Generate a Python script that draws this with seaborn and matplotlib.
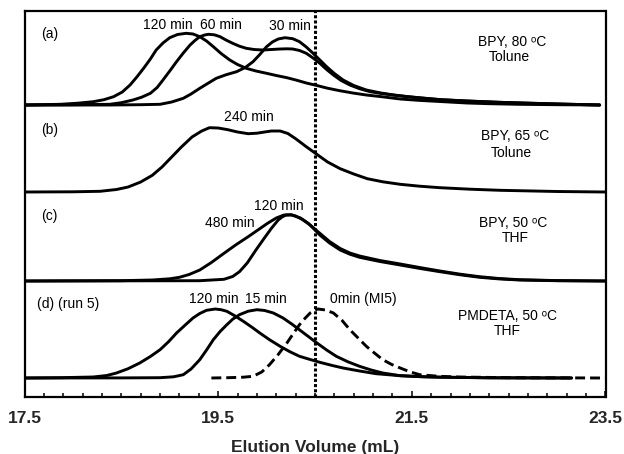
import numpy as np
import pandas as pd
import matplotlib
matplotlib.use("Agg")
import matplotlib.pyplot as plt
from matplotlib.ticker import FixedLocator, NullFormatter
import seaborn as sns

# ---------------- data (elution volume in mL, detector response in arbitrary units) ----------------
# Panel (a) BPY, 80 C, Tolune
a120_v = [17.5, 17.87, 18.05, 18.21, 18.32, 18.42, 18.51, 18.59, 18.66, 18.73, 18.80, 18.86, 18.93,
          19.00, 19.08, 19.17, 19.24, 19.31, 19.38, 19.45, 19.53, 19.62, 19.70, 19.79, 19.89, 20.00,
          20.10, 20.21, 20.31, 20.41, 20.52, 20.62, 20.75, 20.89, 21.03, 21.17, 21.38, 21.58, 21.79,
          22.07, 22.3, 22.6, 23.0, 23.44]
a120_h = [0, 0.7, 1.8, 3.3, 5.3, 8.3, 13, 20, 28, 36.7, 46, 55, 62,
          67.3, 70.5, 71.7, 71, 68.3, 64, 58.3, 51.5, 45, 40.5, 36.7, 34, 31.7,
          29.5, 27.3, 24.8, 22, 19.5, 17, 14.4, 12, 10, 8.5, 6, 4.6, 3.5,
          2, 1.3, 0.7, 0.3, 0]
a60_v = [17.5, 18.0, 18.38, 18.5, 18.62, 18.71, 18.80, 18.87, 18.93, 19.00, 19.07, 19.14, 19.21,
         19.26, 19.31, 19.36, 19.40, 19.46, 19.52, 19.58, 19.65, 19.72, 19.79, 19.87, 19.96, 20.05,
         20.14, 20.21, 20.27, 20.34, 20.41, 20.48, 20.55, 20.62, 20.69, 20.77, 20.86, 20.96, 21.07,
         21.19, 21.31, 21.45, 21.6, 21.8, 22.07, 22.4, 22.75, 23.1, 23.44]
a60_h = [0, 0.3, 0.7, 2.3, 5, 7.8, 11.7, 17.5, 25, 34, 43.3, 52, 60,
         64.5, 68.3, 70, 70.7, 70.2, 68.3, 65, 61.7, 58.8, 56.7, 55.5, 55, 55.5,
         56, 56.2, 56, 54.5, 51.7, 47, 41.7, 35.5, 30, 24.5, 20, 16.3, 13.3,
         11.4, 10, 8.4, 7, 5.3, 4, 2.7, 1.7, 0.8, 0]
a30_v = [17.5, 18.38, 18.7, 18.9, 19.02, 19.14, 19.22, 19.31, 19.40, 19.48, 19.58, 19.69, 19.78,
         19.86, 19.93, 20.0, 20.06, 20.12, 20.19, 20.27, 20.34, 20.41, 20.48, 20.55, 20.62, 20.70,
         20.79, 20.90, 21.03, 21.17, 21.31, 21.45, 21.6, 21.8, 22.07, 22.4, 22.75, 23.1, 23.44]
a30_h = [0, 0, 0.3, 0.7, 3, 6.7, 11, 16.7, 22, 26.7, 30.2, 33.3, 37.5,
         43.3, 50.5, 58.3, 63, 66, 67.3, 66.3, 63.3, 58, 51.7, 45, 38.3, 31.5,
         25, 19.5, 15, 12.2, 10, 8.4, 7, 5.3, 4, 2.7, 1.7, 0.8, 0]

# Panel (b) BPY, 65 C, Tolune
b240_v = [17.5, 18.0, 18.28, 18.45, 18.57, 18.7, 18.82, 18.92, 19.02, 19.12, 19.23, 19.33, 19.41,
          19.5, 19.6, 19.7, 19.81, 19.9, 19.98, 20.05, 20.14, 20.22, 20.30, 20.4, 20.51, 20.63,
          20.76, 20.9, 21.04, 21.2, 21.38, 21.58, 21.79, 22.1, 22.41, 23.0, 23.5]
b240_h = [0, 0.2, 0.7, 2.5, 5, 10, 16.7, 25, 35, 45, 55, 61, 64.3,
          64, 62.3, 60, 58.3, 58.8, 60, 61, 61, 58.5, 53.3, 46, 38.3, 30,
          23.3, 18, 13.3, 10.2, 7.7, 5.8, 4.3, 2.8, 1.7, 0.5, 0]

# Panel (c) BPY, 50 C, THF
c480_v = [17.5, 18.5, 18.82, 19.0, 19.10, 19.2, 19.31, 19.43, 19.56, 19.68, 19.81, 19.91, 20.01,
          20.1, 20.18, 20.26, 20.35, 20.43, 20.49, 20.55, 20.65, 20.76, 20.86, 20.96, 21.17, 21.38,
          21.58, 21.79, 22.0, 22.20, 22.4, 22.61, 23.0, 23.5]
c480_h = [0, 0.3, 1, 2.2, 3.7, 6.5, 11, 18.5, 27.7, 36, 44.3, 51, 57.7,
          63, 66, 66, 63, 57.7, 52, 46, 38, 31, 26.8, 23.7, 19.5, 16,
          12.6, 9.3, 6.2, 3.7, 2.1, 1, 0.3, 0]
c120_v = [17.5, 19.31, 19.56, 19.65, 19.72, 19.8, 19.89, 19.97, 20.05, 20.12, 20.16, 20.20, 20.25,
          20.30, 20.37, 20.45, 20.55, 20.65, 20.76, 20.86, 20.96, 21.17, 21.38, 21.58, 21.79, 22.0,
          22.20, 22.4, 22.61, 23.0, 23.5]
c120_h = [0, 0.3, 1.7, 4.5, 9.3, 18, 31, 42, 52.7, 61, 64, 66, 66.3,
          65, 61.5, 56, 47.7, 39.5, 32.5, 28, 25, 20.5, 17, 13.5, 10, 6.8,
          4.3, 2.5, 1.3, 0.4, 0]

# Panel (d) PMDETA, 50 C, THF (run 5)
d120_v = [17.5, 17.87, 18.21, 18.35, 18.45, 18.57, 18.69, 18.80, 18.90, 18.99, 19.07, 19.16, 19.24,
          19.31, 19.38, 19.47, 19.53, 19.59, 19.67, 19.76, 19.85, 19.93, 20.03, 20.14, 20.24, 20.34,
          20.45, 20.55, 20.67, 20.79, 20.96, 21.13, 21.38, 21.6, 21.8, 22.3, 23.15]
d120_h = [0, 0.3, 1, 2.5, 5, 9.3, 15, 21.5, 28.3, 36.5, 45, 53, 60,
          64.5, 67.7, 69, 68.3, 66.7, 62.3, 56.7, 50.7, 45, 38.3, 31.7, 26.3, 21.7,
          18.5, 15.7, 12.7, 10, 7, 4.3, 2.3, 1.3, 0.8, 0.2, 0]
d15_v = [17.5, 18.5, 18.9, 19.04, 19.14, 19.22, 19.31, 19.38, 19.45, 19.52, 19.59, 19.65, 19.72,
         19.81, 19.90, 19.98, 20.07, 20.17, 20.27, 20.39, 20.52, 20.62, 20.72, 20.84, 20.96, 21.08,
         21.20, 21.38, 21.6, 21.8, 22.3, 23.15]
d15_h = [0, 0.1, 0.3, 1.2, 3.3, 9, 18.3, 28, 38.3, 46.5, 53.3, 58.8, 63.3,
         66.8, 68.3, 67.5, 65, 60, 53.3, 44.5, 35, 28, 21.7, 16.2, 11.7, 8,
         5, 2.3, 1.3, 0.8, 0.2, 0]
d0_v = [19.43, 19.6, 19.76, 19.86, 19.95, 20.03, 20.12, 20.21, 20.28, 20.34, 20.40, 20.45, 20.49,
        20.53, 20.61, 20.69, 20.78, 20.86, 20.95, 21.03, 21.12, 21.20, 21.29, 21.38, 21.48, 21.58,
        21.78, 21.99, 22.5, 23.5]
d0_h = [0, 0.3, 0.8, 1.7, 6, 13.3, 23.5, 35, 45, 53.3, 60, 65, 67.6,
        69, 68, 65, 57.5, 48.3, 39.5, 31.7, 24.5, 18.3, 13.6, 10, 6.2, 3.3,
        1.7, 1, 0.3, 0]

major_ticks = [17.5, 19.5, 21.5, 23.5]
tick_labels = ["17.5", "19.5", "21.5", "23.5"]
marker_volume = 20.5

# ---------------- style ----------------
sns.set_theme(style="white")
plt.rcParams["font.family"] = ["Liberation Sans", "DejaVu Sans"]

W, H = 624, 454
fig = plt.figure(figsize=(W / 100, H / 100), dpi=100)
left_px, right_px, top_px, bot_px = 24.5, 605.5, 11, 397
ax = fig.add_axes([left_px / W, (H - bot_px) / H, (right_px - left_px) / W, (bot_px - top_px) / H])
ax.set_xlim(17.5, 23.5)
ax.set_ylim(0, bot_px - top_px)

# panel baselines (vertical offsets)
off = {"a": 292, "b": 205, "c": 116, "d": 19}
lw = 2.1

def curve(v, h, panel, dashed=False):
    df = pd.DataFrame({"v": v, "y": np.array(h) + off[panel]})
    sns.lineplot(data=df, x="v", y="y", ax=ax, color="black", lw=lw, sort=True, estimator=None)
    line = ax.lines[-1]
    line.set_solid_joinstyle("round")
    if dashed:
        line.set_dashes((3.4, 1.7))

curve(a120_v, a120_h, "a")
curve(a60_v, a60_h, "a")
curve(a30_v, a30_h, "a")
curve(b240_v, b240_h, "b")
curve(c480_v, c480_h, "c")
curve(c120_v, c120_h, "c")
curve(d120_v, d120_h, "d")
curve(d15_v, d15_h, "d")
curve(d0_v, d0_h, "d", dashed=True)

ax.axvline(marker_volume, color="black", lw=2.2, linestyle=(0, (1.0, 0.7)))

# ---------------- axes ----------------
for s in ax.spines.values():
    s.set_visible(True)
    s.set_color("black")
    s.set_linewidth(1.6)
ax.set_yticks([])
ax.set_xticks(major_ticks)
ax.set_xticklabels(tick_labels, fontsize=12.5, fontweight="bold")
minor = [round(17.5 + 0.2 * k, 1) for k in range(1, 30) if k % 10 != 0]
ax.xaxis.set_minor_locator(FixedLocator(minor))
ax.xaxis.set_minor_formatter(NullFormatter())
ax.tick_params(axis="x", which="major", direction="in", length=4.5, width=1.1, color="black", pad=10, bottom=True)
ax.tick_params(axis="x", which="minor", direction="in", length=3, width=1.1, color="black", bottom=True)
ax.set_xlabel("Elution Volume (mL)", fontsize=12.5, fontweight="bold", labelpad=10)
ax.set_ylabel("")

# ---------------- annotations (y given as visual centre; placed by baseline) ----------------
fs = 10
def txt(x, y, s, ha="center"):
    ax.text(x, y - 5, s, fontsize=fs, ha=ha, va="baseline", color="black")

deg = "\u1d52C"
txt(17.67, 364.5, "(a)", ha="left")
txt(18.98, 373, "120 min")
txt(19.53, 373, "60 min")
txt(20.24, 372, "30 min")
txt(22.54, 356, "BPY, 80 " + deg)
txt(22.51, 341.5, "Tolune")

txt(17.67, 268, "(b)", ha="left")
txt(19.82, 281, "240 min")
txt(22.57, 262.5, "BPY, 65 " + deg)
txt(22.53, 245, "Tolune")

txt(17.67, 182, "(c)", ha="left")
txt(20.13, 192, "120 min")
txt(19.62, 175.3, "480 min")
txt(22.55, 175.5, "BPY, 50 " + deg)
txt(22.57, 160, "THF")

txt(17.63, 94, "(d) (run 5)", ha="left")
txt(19.45, 99, "120 min")
txt(19.99, 99, "15 min")
txt(21.0, 99, "0min (MI5)")
txt(22.49, 82.5, "PMDETA, 50 " + deg)
txt(22.49, 67, "THF")

fig.savefig("out.png", dpi=100, facecolor="white")
